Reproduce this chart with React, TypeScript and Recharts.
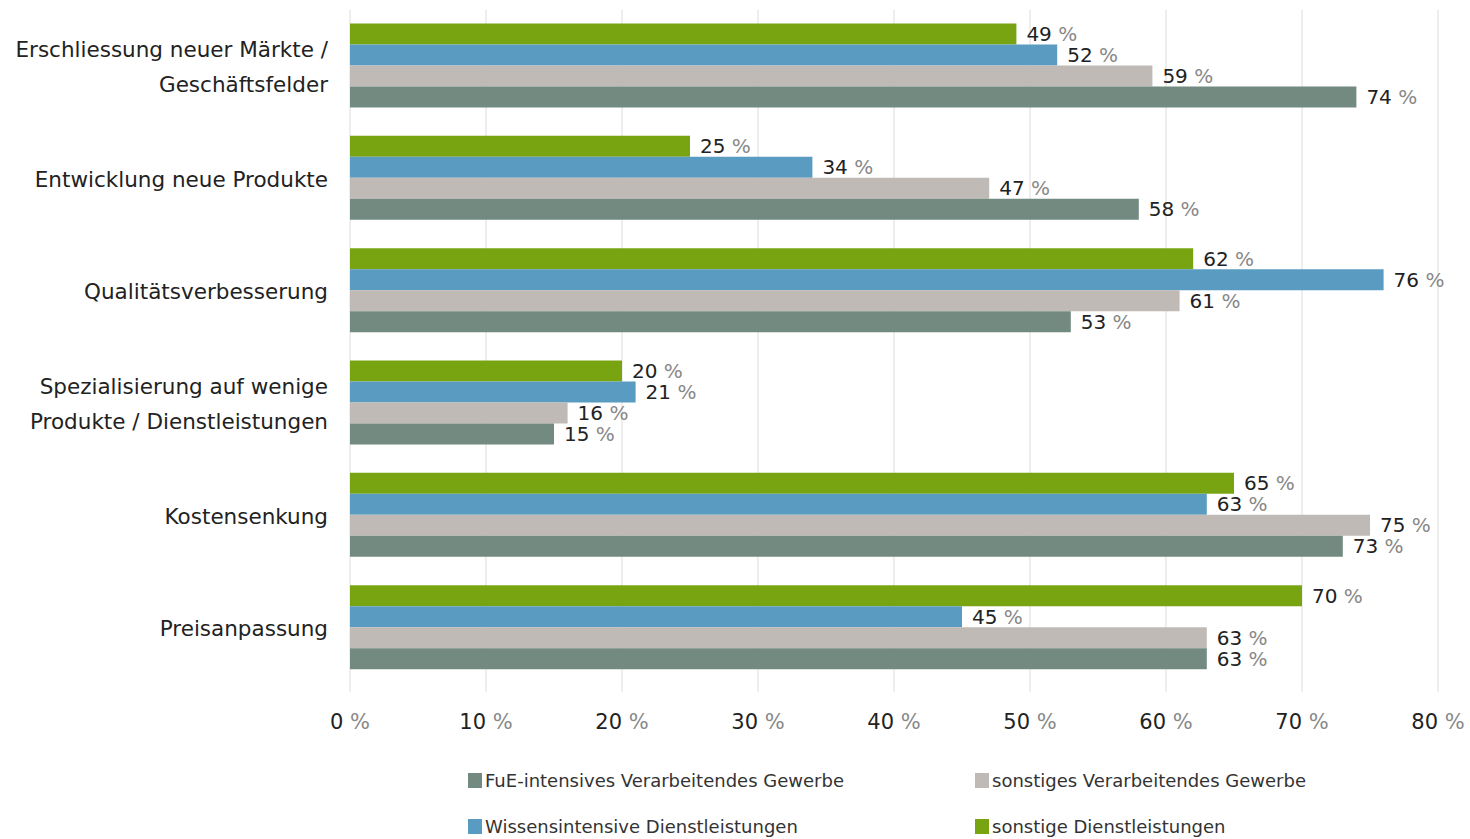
import {
  Bar,
  BarChart,
  CartesianGrid,
  LabelList,
  Legend,
  XAxis,
  YAxis,
} from 'recharts'

const KATEGORIEN = [
  'Erschliessung neuer Märkte / Geschäftsfelder',
  'Entwicklung neue Produkte',
  'Qualitätsverbesserung',
  'Spezialisierung auf wenige Produkte / Dienstleistungen',
  'Kostensenkung',
  'Preisanpassung',
]

// Zeilenumbrüche der Achsenbeschriftung wie im Original
const KATEGORIE_ZEILEN: string[][] = [
  ['Erschliessung neuer Märkte /', 'Geschäftsfelder'],
  ['Entwicklung neue Produkte'],
  ['Qualitätsverbesserung'],
  ['Spezialisierung auf wenige', 'Produkte / Dienstleistungen'],
  ['Kostensenkung'],
  ['Preisanpassung'],
]

const SONSTIGE_DL = [49, 25, 62, 20, 65, 70]
const WISSENS_DL = [52, 34, 76, 21, 63, 45]
const SONSTIGES_VG = [59, 47, 61, 16, 75, 63]
const FUE_VG = [74, 58, 53, 15, 73, 63]

const X_TICKS = [0, 10, 20, 30, 40, 50, 60, 70, 80]

const GRUEN = '#79a412'
const BLAU = '#5a9bc2'
const GRAU = '#bfbab5'
const DUNKEL = '#728a80'
const GRID = '#dcdcdc'
const FONT = '"DejaVu Sans", "Noto Sans", sans-serif'

const SERIEN = [
  { key: 'sonstigeDL', name: 'sonstige Dienstleistungen', color: GRUEN },
  { key: 'wissensDL', name: 'Wissensintensive Dienstleistungen', color: BLAU },
  { key: 'sonstigesVG', name: 'sonstiges Verarbeitendes Gewerbe', color: GRAU },
  { key: 'fueVG', name: 'FuE-intensives Verarbeitendes Gewerbe', color: DUNKEL },
]

// Reihenfolge in der Legende (2 x 2)
const LEGENDE = [SERIEN[3], SERIEN[2], SERIEN[1], SERIEN[0]]

const data = KATEGORIEN.map((k, i) => ({
  kategorie: k,
  sonstigeDL: SONSTIGE_DL[i],
  wissensDL: WISSENS_DL[i],
  sonstigesVG: SONSTIGES_VG[i],
  fueVG: FUE_VG[i],
}))

function KategorieTick({ x, y, payload }: any) {
  const idx = KATEGORIEN.indexOf(payload.value)
  const zeilen = KATEGORIE_ZEILEN[idx] ?? [payload.value]
  const lh = 35
  const start = -((zeilen.length - 1) * lh) / 2
  return (
    <text x={x - 14} y={y} textAnchor="end" fontFamily={FONT} fontSize={21.5} fill="#222">
      {zeilen.map((z, i) => (
        <tspan key={i} x={x - 14} dy={i === 0 ? start + 8 : lh}>
          {z}
        </tspan>
      ))}
    </text>
  )
}

function ProzentTick({ x, y, payload }: any) {
  return (
    <text x={x} y={y + 35} textAnchor="middle" fontFamily={FONT} fontSize={21}>
      <tspan fill="#222">{payload.value}</tspan>
      <tspan fill="#888"> %</tspan>
    </text>
  )
}

function WertLabel({ x, y, width, height, value }: any) {
  if (x == null) return null
  return (
    <text x={x + width + 10} y={y + height / 2 + 7} fontFamily={FONT} fontSize={20}>
      <tspan fill="#222">{value}</tspan>
      <tspan fill="#888"> %</tspan>
    </text>
  )
}

function Legende() {
  return (
    <div style={{ height: 95, position: 'relative', fontFamily: FONT, fontSize: 18, color: '#333' }}>
      {LEGENDE.map((s, i) => (
        <div
          key={s.key}
          style={{
            position: 'absolute',
            left: i % 2 === 0 ? 468 : 975,
            top: i < 2 ? 26 : 72,
            display: 'flex',
            alignItems: 'center',
            whiteSpace: 'nowrap',
          }}
        >
          <span
            style={{
              display: 'inline-block',
              width: 14,
              height: 15,
              background: s.color,
              marginRight: 3,
            }}
          />
          {s.name}
        </div>
      ))}
    </div>
  )
}

export default function App() {
  return (
    <div style={{ position: 'absolute', left: 0, top: 0, background: '#fff' }}>
      <BarChart
        width={1470}
        height={839}
        data={data}
        layout="vertical"
        margin={{ top: 10, right: 32, left: 0, bottom: 0 }}
        barCategoryGap="12%"
        barGap={0}
      >
        <CartesianGrid stroke={GRID} horizontal={false} />
        <XAxis
          type="number"
          domain={[0, 80]}
          ticks={X_TICKS}
          tick={<ProzentTick />}
          axisLine={false}
          tickLine={{ stroke: GRID }}
          tickSize={8}
          height={60}
        />
        <YAxis
          type="category"
          dataKey="kategorie"
          width={350}
          tick={<KategorieTick />}
          axisLine={false}
          tickLine={false}
          interval={0}
        />
        <Legend verticalAlign="bottom" content={<Legende />} wrapperStyle={{ left: 0, width: 1470 }} />
        {SERIEN.map((s) => (
          <Bar key={s.key} dataKey={s.key} name={s.name} fill={s.color} isAnimationActive={false}>
            <LabelList dataKey={s.key} content={<WertLabel />} />
          </Bar>
        ))}
      </BarChart>
    </div>
  )
}
